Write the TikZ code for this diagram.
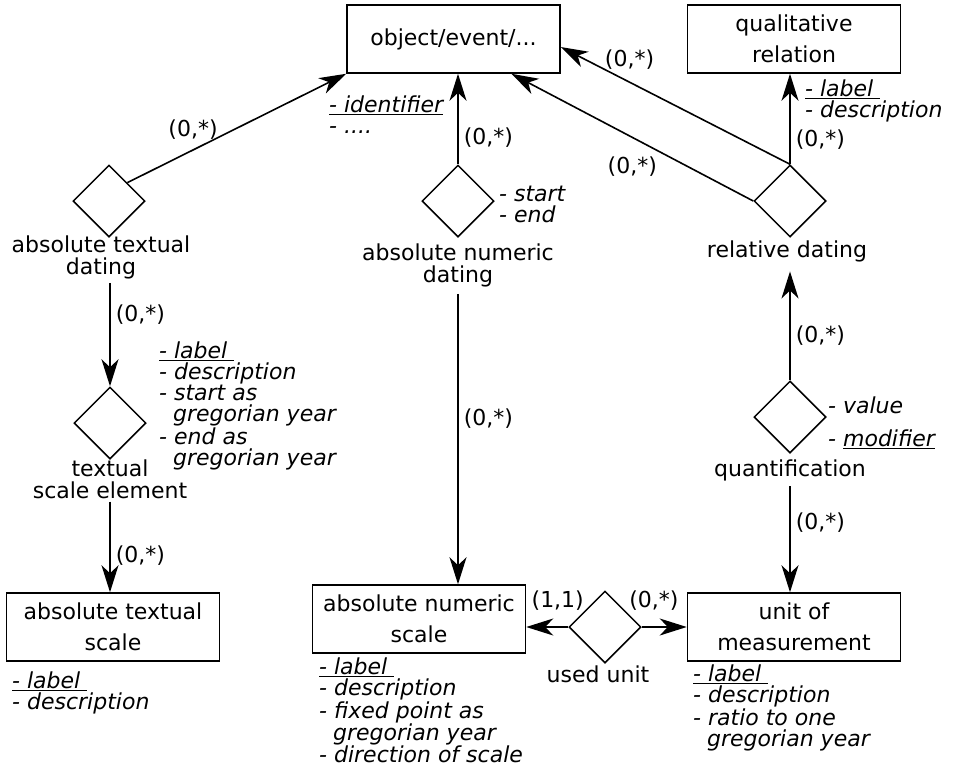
\documentclass[tikz,border=0pt]{standalone}
\usepackage{fontspec}
\setmainfont{DejaVu Sans}
\usetikzlibrary{shapes.geometric, arrows.meta, positioning}
\tikzset{
	x=1pt, y=-1pt, % one unit is one pixel of the sketch, y grows downwards
	every node/.style={font=\fontsize{22}{21.5}\selectfont, inner sep=1pt},
	entity/.style={draw, line width=1.5pt, minimum width=213pt, minimum height=68pt, align=center, font=\fontsize{22}{31}\selectfont}, % boxes
	relation/.style={draw, diamond, line width=1.5pt, minimum width=72pt, minimum height=72pt, inner sep=0pt}, % diamonds
	rname/.style={align=center}, % name under a diamond
	attr/.style={align=left, anchor=north west, font=\fontsize{22}{21}\selectfont\itshape}, % attribute lists
	link/.style={line width=1.6pt, -{Stealth[length=27pt, width=17pt, inset=8pt]}},
}

\begin{document}
\begin{tikzpicture}
	\useasboundingbox (0,0) rectangle (954,769);
	% entities
	\node[entity] (obj) at (453.5,39) {object/event/...};
	\node[entity] (qual) at (794,39) {qualitative\\relation};
	\node[entity] (ats) at (113,627) {absolute textual\\scale};
	\node[entity] (ans) at (419,619) {absolute numeric\\scale};
	\node[entity] (uom) at (794,627) {unit of\\measurement};
	% relations
	\node[relation] (atd) at (109,201) {};
	\node[relation] (anumd) at (458,201) {};
	\node[relation] (rd) at (790,201) {};
	\node[relation] (quant) at (790,417) {};
	\node[relation] (tse) at (110,423) {};
	\node[relation] (uu) at (605,627) {};
	\node[rname, below=-3pt of atd, xshift=-8pt] (atdl) {absolute textual\\dating};
	\node[rname, below=5pt of anumd] (anumdl) {absolute numeric\\dating};
	\node[rname, below=2pt of rd, xshift=-3pt] (rdl) {relative dating};
	\node[rname, below=5pt of quant] (quantl) {quantification};
	\node[rname, below=-1pt of tse] (tsel) {textual\\scale element};
	\node[rname, below=1pt of uu, xshift=-7pt] (uul) {used unit};
	% attributes
	\node[attr] (obja) at (328,95) {\underline{- identifier}\\- ....};
	\node[attr] (quala) at (804,79) {\underline{- label\ }\\- description};
	\node[attr] (anumda) at (498,185) {- start\\- end};
	\node[attr] (quanta) at (827,396) {- value\\[12pt]- \underline{modifier}};
	\node[attr] (tsea) at (158,341) {\underline{- label\ }\\- description\\- start as\\\hspace*{14pt}gregorian year\\- end as\\\hspace*{14pt}gregorian year};
	\node[attr] (atsa) at (11,671) {\underline{- label\ }\\- description};
	\node[attr] (ansa) at (318,657) {\underline{- label\ }\\- description\\- fixed point as\\\hspace*{14pt}gregorian year\\- direction of scale};
	\node[attr] (uoma) at (692,664) {\underline{- label\ }\\- description\\- ratio to one\\\hspace*{14pt}gregorian year};
	% connectors
	\draw	(atd.north east) edge[link] node[pos=0.3, above=9pt]{(0,*)} (obj.south west)
			(anumd.north) edge[link] node[pos=0.3, right=4pt]{(0,*)} (anumd.north |- obj.south)
			(rd.north) edge[link] node[pos=0.27, right=4pt]{(0,*)} (rd.north |- qual.south)
			(rd.north) edge[link] node[pos=0.7, above=11pt]{(0,*)} ([yshift=-8pt]obj.east)
			(rd.west) edge[link] node[pos=0.5, below=18pt]{(0,*)} (obj.-31)
			(quant.north) edge[link, shorten >=8pt] node[pos=0.38, right=4pt]{(0,*)} (quant.north |- rdl.south)
			(quantl.south) edge[link, shorten <=4pt] node[pos=0.37, right=4pt]{(0,*)} (quantl.south |- uom.north)
			(uu.west) edge[link] node[pos=0.25, above=15pt]{(1,1)} (uu.west -| ans.east)
			(uu.east) edge[link] node[pos=0.27, above=15pt]{(0,*)} (uu.east -| uom.west)
			(anumdl.south) edge[link, shorten <=6pt] node[pos=0.44, right=4pt]{(0,*)} (anumdl.south |- ans.north)
			(tse.north |- atdl.south) edge[link, shorten <=3pt] node[pos=0.33, right=4pt]{(0,*)} (tse.north)
			(tsel.south) edge[link, shorten <=2pt] node[pos=0.6, right=4pt]{(0,*)} (tsel.south |- ats.north);
\end{tikzpicture}
\end{document}
